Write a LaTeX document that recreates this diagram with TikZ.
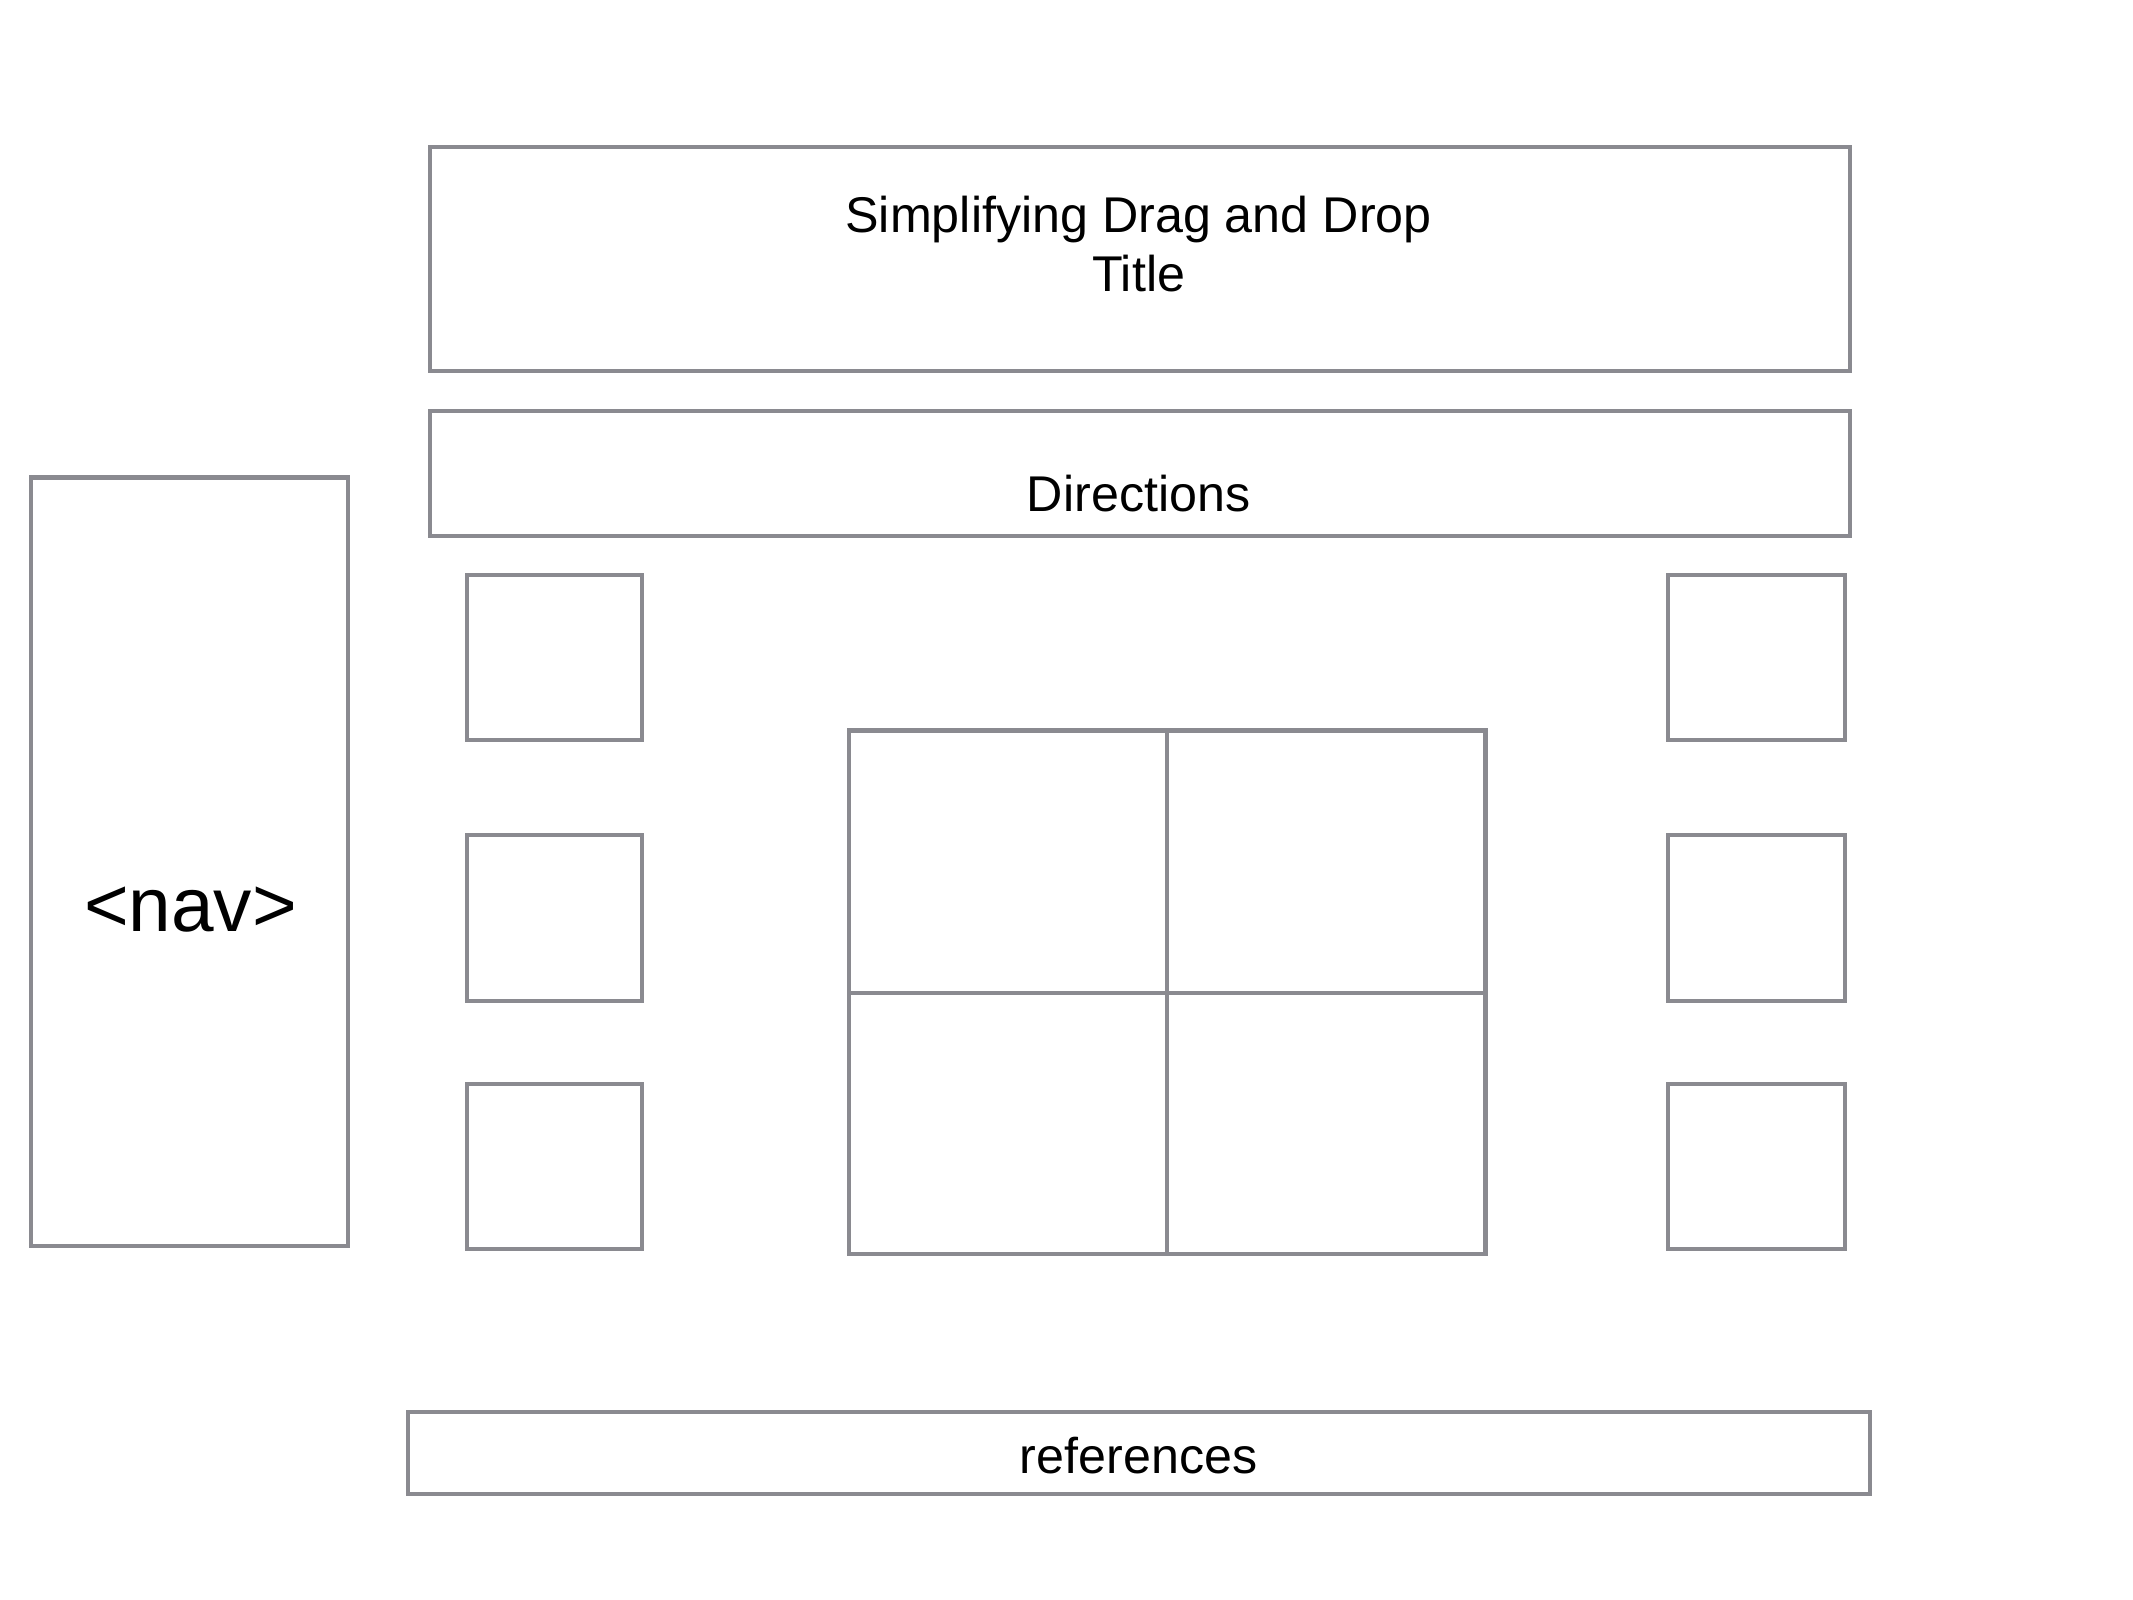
\documentclass[tikz,border=0pt]{standalone}
\usepackage{fontspec}
\setmainfont{Liberation Sans}
\definecolor{framegray}{RGB}{138,138,144}

\begin{document}
\begin{tikzpicture}[x=0.01cm,y=-0.01cm]
\useasboundingbox (0,0) rectangle (1568,1176);
\tikzset{frame/.style={draw=framegray,line width=0.85pt}}

% header boxes
\draw [frame] (316,108) rectangle (1360,273);
\draw [frame] (316,302) rectangle (1360,394);
\node (title) [anchor=base,align=center,font=\fontsize{10.5}{12.3}\selectfont] at(837,214) {Simplifying Drag and Drop\\Title};
\node (directions) [anchor=base,font=\fontsize{10.5}{12.3}\selectfont] at(837,376) {Directions};

% nav column
\draw [frame] (23,351) rectangle (256,916);
\node (nav) [anchor=base,font=\fontsize{16}{19}\selectfont] at(140,685) {<nav>};

% left pieces
\draw [frame] (343,423) rectangle (472,544);
\draw [frame] (343,614) rectangle (472,736);
\draw [frame] (343,797) rectangle (472,918);

% right pieces
\draw [frame] (1226,423) rectangle (1356,544);
\draw [frame] (1226,614) rectangle (1356,736);
\draw [frame] (1226,797) rectangle (1356,918);

% drop grid
\draw [frame] (624,537) rectangle (858,730);
\draw [frame] (858,537) rectangle (1092,730);
\draw [frame] (624,730) rectangle (858,922);
\draw [frame] (858,730) rectangle (1092,922);

% footer
\draw [frame] (300,1038) rectangle (1375,1098);
\node (references) [anchor=base,font=\fontsize{10.5}{12.3}\selectfont] at(837,1083) {references};
\end{tikzpicture}
\end{document}
